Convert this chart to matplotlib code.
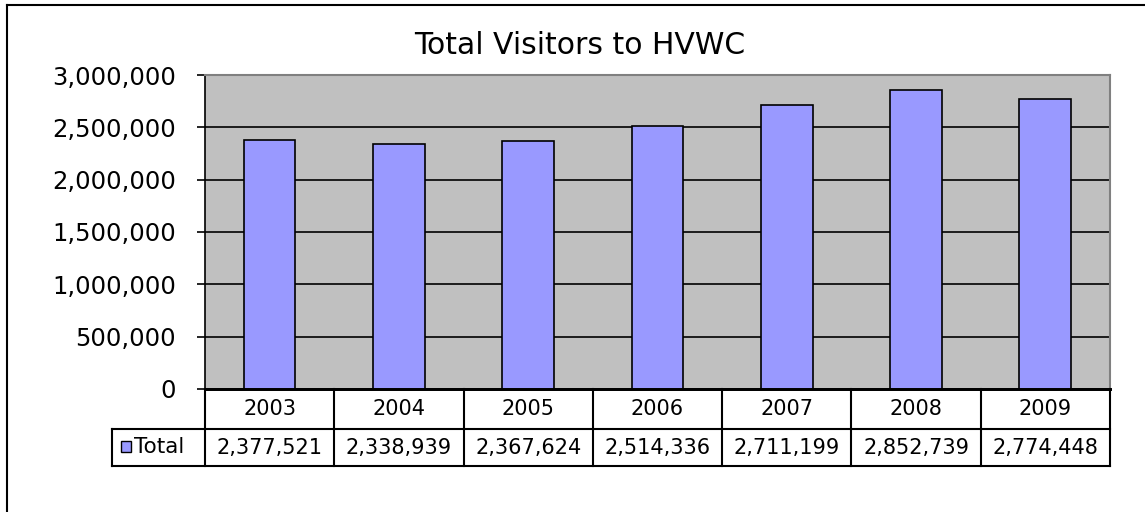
import matplotlib.pyplot as plt
import numpy as np
from matplotlib.patches import Rectangle
from matplotlib.ticker import FuncFormatter

years = ['2003', '2004', '2005', '2006', '2007', '2008', '2009']
totals = [2377521, 2338939, 2367624, 2514336, 2711199, 2852739, 2774448]
series_name = 'Total'
y_ticks = [0, 500000, 1000000, 1500000, 2000000, 2500000, 3000000]

# the reference is a horizontally stretched Arial; DejaVu's wider glyphs fit it best
plt.rcParams['font.family'] = ['DejaVu Sans']

W, H = 1145, 512
fig = plt.figure(figsize=(W / 100, H / 100), dpi=100)

bar_color = '#9999FF'
plot_bg = '#C0C0C0'

# plot area in pixels
px_l, px_r, px_t, px_b = 205, 1110, 75, 389
ax = fig.add_axes([px_l / W, 1 - px_b / H, (px_r - px_l) / W, (px_b - px_t) / H])
ax.set_facecolor(plot_bg)

x = np.arange(len(years))
ax.bar(x, totals, width=0.4, color=bar_color, edgecolor='black', linewidth=1.2, zorder=3)
ax.set_xlim(-0.5, len(years) - 0.5)
ax.set_ylim(0, 3000000)
ax.set_yticks(y_ticks)
ax.yaxis.set_major_formatter(FuncFormatter(lambda v, p: f'{int(v):,}'))
ax.tick_params(axis='y', direction='out', length=6, width=1.2, pad=15, labelsize=17.5)
ax.set_xticks([])
ax.grid(axis='y', color='black', linewidth=1.2, zorder=1)
ax.set_axisbelow(True)
for s in ['top', 'right']:
    ax.spines[s].set_color('#808080')
    ax.spines[s].set_linewidth(1.5)
ax.spines['left'].set_linewidth(1.2)
ax.spines['bottom'].set_linewidth(2)

# data table below the plot
tb_l, tb_mid, tb_b = 112, 429, 466
cat_w = (px_r - px_l) / len(years)
tax = fig.add_axes([tb_l / W, 1 - tb_b / H, (px_r - tb_l) / W, (tb_b - px_b) / H])
tax.set_xlim(-0.5 - (px_l - tb_l) / cat_w, len(years) - 0.5)
tax.set_ylim(0, tb_b - px_b)
tax.axis('off')
row_split = tb_b - tb_mid
lw = 1.5
x0 = tax.get_xlim()[0]
# horizontal lines
tax.plot([-0.5, len(years) - 0.5], [tb_b - px_b] * 2, color='black', lw=2, clip_on=False)
tax.plot([x0, len(years) - 0.5], [row_split] * 2, color='black', lw=lw, clip_on=False)
tax.plot([x0, len(years) - 0.5], [0, 0], color='black', lw=lw, clip_on=False)
# vertical lines
for i in range(len(years) + 1):
    tax.plot([i - 0.5] * 2, [0, tb_b - px_b], color='black', lw=lw, clip_on=False)
tax.plot([x0] * 2, [0, row_split], color='black', lw=lw, clip_on=False)

for i, (yr, v) in enumerate(zip(years, totals)):
    tax.text(i, (row_split + tb_b - px_b) / 2, yr, ha='center', va='center', fontsize=15)
    tax.text(i, row_split / 2, f'{v:,}', ha='center', va='center', fontsize=15)

# legend key in table
key = Rectangle((121 / W, 1 - 452 / H), 10 / W, 11 / H, transform=fig.transFigure,
                facecolor=bar_color, edgecolor='black', linewidth=1)
fig.patches.append(key)
fig.text(134 / W, 1 - 447 / H, series_name, ha='left', va='center', fontsize=15.5)

# title
fig.text(580 / W, 1 - 46 / H, 'Total Visitors to HVWC', ha='center', va='center', fontsize=21.5)

# chart border (left and top only visible)
fig.add_artist(plt.Line2D([7 / W, 7 / W], [0, 1 - 5 / H], color='black', lw=1.5, transform=fig.transFigure))
fig.add_artist(plt.Line2D([7 / W, 1], [1 - 5 / H, 1 - 5 / H], color='black', lw=1.5, transform=fig.transFigure))

fig.savefig('out.png', dpi=100)
